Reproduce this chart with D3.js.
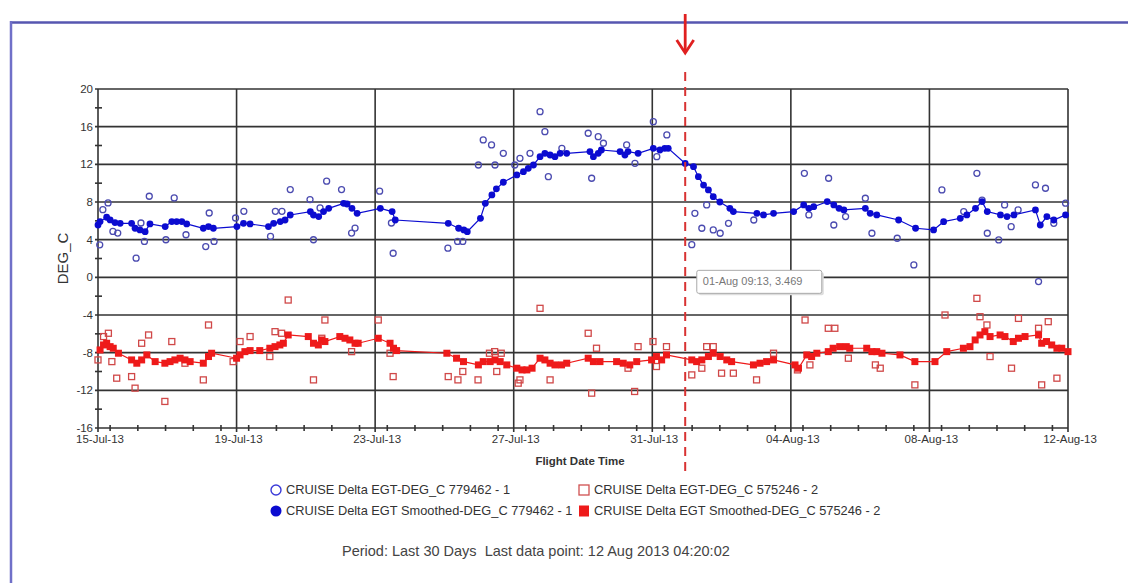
<!DOCTYPE html>
<html><head><meta charset="utf-8">
<script src="https://cdn.jsdelivr.net/npm/d3@7"></script>
<style>
html,body{margin:0;padding:0;background:#fff;}
svg{display:block;font-family:"Liberation Sans",Arial,sans-serif;}
</style></head>
<body><svg id="c" width="1128" height="583"></svg>
<script>
// ---- data: [day offset from 15-Jul-2013, value DEG_C] ----
const blueRaw = [[0.05,3.45],[0.14,7.19],[0.29,7.9],[0.43,4.88],[0.57,4.70],[1.10,2.03],[1.24,5.77],[1.34,3.81],[1.48,8.61],[1.96,3.99],[2.2,8.43],[2.54,4.52],[3.11,3.27],[3.21,6.83],[3.35,3.81],[3.97,6.30],[4.21,7.01],[4.98,4.34],[5.12,7.01],[5.31,7.01],[5.55,9.32],[6.12,8.26],[6.22,3.99],[6.41,7.37],[6.60,10.21],[7.03,9.32],[7.32,4.70],[7.42,5.23],[8.13,9.15],[8.47,5.77],[8.52,2.56],[10.10,3.10],[10.38,3.81],[10.53,3.81],[10.98,11.93],[11.12,14.59],[11.36,14.06],[11.46,11.93],[11.70,13.17],[12.03,11.93],[12.18,12.64],[12.47,13.17],[12.76,17.59],[12.9,15.47],[13.0,10.69],[13.39,13.7],[14.15,15.3],[14.25,10.52],[14.44,14.94],[14.59,14.24],[15.26,14.06],[15.5,12.11],[16.03,16.53],[16.13,12.81],[16.42,15.12],[17.14,3.47],[17.23,6.8],[17.43,5.21],[17.57,7.69],[17.76,5.03],[17.96,4.68],[18.2,5.74],[18.93,6.09],[20.39,11.05],[20.52,6.63],[21.09,10.52],[21.24,5.56],[21.58,6.45],[22.15,8.4],[22.34,4.68],[23.07,4.15],[23.55,1.32],[24.36,9.28],[24.99,6.98],[25.37,11.05],[25.52,8.2],[25.67,4.68],[26.0,3.97],[26.17,7.69],[26.36,5.38],[26.56,7.16],[27.06,9.81],[27.35,9.46],[27.15,-0.45],[27.59,5.74],[27.93,7.87]];
const blueSmooth = [[0.0,5.56],[0.06,5.92],[0.25,6.38],[0.35,6.10],[0.49,5.81],[0.64,5.74],[0.97,5.74],[1.07,5.21],[1.21,5.03],[1.36,4.85],[1.50,5.67],[1.94,5.39],[2.13,5.92],[2.27,5.92],[2.42,5.92],[2.56,5.67],[3.04,5.21],[3.19,5.39],[3.33,5.21],[4.01,5.39],[4.20,5.74],[4.39,5.67],[4.92,5.39],[5.07,5.74],[5.26,5.92],[5.40,6.09],[5.55,6.62],[6.13,6.98],[6.22,6.62],[6.37,6.45],[6.51,6.98],[6.66,7.33],[7.09,7.86],[7.19,7.79],[7.33,7.33],[7.48,6.80],[8.15,7.33],[8.49,6.98],[8.58,6.09],[10.11,5.74],[10.41,5.21],[10.56,5.03],[10.66,4.85],[11.04,6.27],[11.18,7.86],[11.37,8.75],[11.50,9.4],[11.70,10.1],[12.09,10.87],[12.28,11.22],[12.42,11.58],[12.57,11.93],[12.76,12.81],[12.9,13.17],[13.05,12.99],[13.19,12.81],[13.34,13.17],[13.53,13.17],[14.2,13.35],[14.3,12.81],[14.44,13.17],[14.53,13.52],[15.07,13.35],[15.21,12.99],[15.3,13.35],[15.59,13.17],[16.03,13.7],[16.22,13.52],[16.36,13.7],[16.46,13.7],[16.95,12.1],[17.19,11.75],[17.33,10.69],[17.48,9.8],[17.62,9.28],[17.76,8.57],[17.95,8.0],[18.24,7.33],[18.34,6.98],[19.02,6.80],[19.21,6.63],[19.5,6.80],[20.08,6.98],[20.37,7.69],[20.52,7.33],[20.66,7.5],[21.05,8.04],[21.24,7.69],[21.39,7.33],[21.53,7.16],[22.15,7.33],[22.29,6.8],[22.48,6.63],[23.11,6.09],[23.6,5.21],[24.12,5.03],[24.41,5.91],[24.89,6.27],[25.08,6.63],[25.33,7.33],[25.52,8.04],[25.67,6.98],[26.05,6.63],[26.24,6.45],[26.44,6.63],[27.06,7.16],[27.2,5.56],[27.39,6.45],[27.59,6.09],[27.93,6.63]];
const redRaw = [[0.0,-8.77],[0.16,-6.29],[0.30,-5.94],[0.40,-8.95],[0.54,-10.71],[0.97,-10.54],[1.07,-11.77],[1.26,-7.0],[1.46,-6.12],[1.93,-13.18],[2.13,-6.82],[2.51,-9.12],[3.04,-10.89],[3.19,-5.06],[3.9,-8.95],[4.10,-6.82],[4.39,-6.29],[4.96,-8.41],[5.11,-5.77],[5.30,-5.94],[5.49,-2.41],[6.22,-10.89],[6.46,-6.47],[6.55,-4.53],[7.32,-7.89],[8.09,-4.53],[8.43,-8.06],[8.52,-10.54],[10.11,-10.54],[10.39,-10.89],[10.53,-10.0],[10.97,-10.89],[11.3,-8.06],[11.45,-7.89],[11.64,-8.06],[11.51,-10.0],[12.13,-11.24],[12.18,-10.89],[12.76,-3.29],[13.05,-10.89],[14.15,-5.94],[14.39,-7.53],[14.25,-12.3],[15.30,-9.65],[15.49,-12.12],[15.59,-7.36],[16.02,-6.82],[16.12,-9.47],[16.41,-7.36],[17.14,-10.36],[17.43,-9.65],[17.57,-7.36],[17.76,-7.36],[18.0,-10.18],[18.34,-10.18],[19.01,-10.89],[19.5,-8.06],[20.19,-9.83],[20.41,-4.53],[20.55,-9.30],[21.08,-5.41],[21.27,-5.41],[21.66,-8.59],[22.44,-9.30],[22.58,-9.65],[23.58,-11.42],[24.45,-4.0],[25.37,-2.23],[25.46,-4.18],[25.66,-5.06],[25.75,-8.41],[26.37,-9.65],[26.57,-4.36],[27.15,-5.41],[27.43,-4.71],[27.24,-11.42],[27.68,-10.71]];
const redSmooth = [[0.06,-7.71],[0.16,-7.18],[0.25,-7.0],[0.35,-7.36],[0.44,-7.53],[0.59,-8.06],[0.97,-8.77],[1.12,-9.12],[1.26,-8.77],[1.41,-8.24],[1.65,-8.95],[1.93,-9.12],[2.08,-8.95],[2.22,-8.77],[2.37,-8.59],[2.51,-8.77],[2.66,-8.95],[3.04,-9.12],[3.19,-8.41],[3.28,-8.06],[4.0,-8.59],[4.10,-8.24],[4.24,-7.89],[4.39,-7.78],[4.67,-7.78],[4.96,-7.53],[5.11,-7.36],[5.25,-7.18],[5.35,-7.0],[5.49,-6.12],[6.07,-6.29],[6.22,-7.0],[6.36,-7.18],[6.46,-6.65],[6.55,-6.82],[6.98,-6.29],[7.13,-6.47],[7.27,-6.65],[7.42,-7.0],[7.51,-7.0],[8.09,-6.47],[8.43,-7.0],[8.53,-7.53],[8.62,-7.78],[10.07,-8.06],[10.35,-8.59],[10.55,-8.95],[10.98,-9.30],[11.12,-8.95],[11.32,-8.95],[11.46,-8.77],[11.61,-8.95],[11.80,-9.30],[12.09,-9.65],[12.24,-9.83],[12.38,-9.83],[12.53,-9.65],[12.76,-8.59],[12.9,-8.77],[13.05,-9.12],[13.19,-9.30],[13.38,-9.30],[13.53,-9.12],[14.15,-8.59],[14.30,-8.95],[14.49,-8.95],[14.97,-8.95],[15.16,-9.12],[15.35,-9.30],[15.55,-8.95],[15.98,-8.77],[16.12,-8.41],[16.27,-8.77],[16.41,-8.24],[17.14,-8.77],[17.28,-8.95],[17.43,-8.77],[17.62,-8.41],[17.76,-8.06],[17.96,-8.41],[18.15,-8.77],[18.29,-8.95],[18.92,-9.30],[19.11,-9.12],[19.30,-8.95],[19.5,-8.77],[20.12,-9.30],[20.22,-9.65],[20.46,-8.24],[20.6,-8.41],[20.75,-8.06],[21.08,-7.89],[21.22,-7.53],[21.41,-7.36],[21.6,-7.36],[21.7,-7.53],[22.19,-7.53],[22.34,-7.89],[22.48,-7.89],[22.63,-8.06],[23.15,-8.24],[23.58,-8.95],[24.16,-8.95],[24.5,-7.89],[24.98,-7.53],[25.17,-7.36],[25.32,-6.65],[25.46,-6.12],[25.6,-5.77],[25.75,-6.29],[26.04,-6.12],[26.18,-6.29],[26.42,-6.82],[26.57,-6.47],[26.76,-6.29],[27.15,-6.12],[27.24,-7.0],[27.38,-6.82],[27.53,-7.18],[27.68,-7.53],[27.82,-7.53],[28.0,-7.89]];

const yMajorTicks = [20,16,12,8,4,0,-4,-8,-12,-16];
const yMinorTicks = [18,14,10,6,2,-2,-6,-10,-14];
const xMajorTickDays = [0,4,8,12,16,20,24,28];
const xMinorOffsetDays = [0.35,1.15,1.95,2.75,3.55];
const markerDay = 16.95;
const tooltipPoint = [17.14, 3.469];
const tooltipText = "01-Aug 09:13, 3.469";
const legendItems = [
  {label:"CRUISE Delta EGT-DEG_C 779462 - 1", kind:"openCircle"},
  {label:"CRUISE Delta EGT-DEG_C 575246 - 2", kind:"openSquare"},
  {label:"CRUISE Delta EGT Smoothed-DEG_C 779462 - 1", kind:"filledCircle"},
  {label:"CRUISE Delta EGT Smoothed-DEG_C 575246 - 2", kind:"filledSquare"}
];
const yTitle = "DEG_C";
const xTitle = "Flight Date Time";
const footer = "Period: Last 30 Days  Last data point: 12 Aug 2013 04:20:02";

// ---- setup ----
const base = new Date(2013, 6, 15);
const toDate = d => new Date(base.getTime() + d * 864e5);
const svg = d3.select("#c");
const L = 98, R = 1068, T = 89, B = 428;
const x = d3.scaleTime().domain([toDate(0), toDate(28)]).range([L, R]);
const y = d3.scaleLinear().domain([-16, 20]).range([B, T]);
const fmt = d3.timeFormat("%d-%b-%y");

const BLUE = "#0b0bd0", BLUE_O = "#4b4bb0", RED = "#ee1a1a", RED_O = "#d04848", GRID = "#333";

// outer frame
svg.append("line").attr("x1",10).attr("x2",1128).attr("y1",22.5).attr("y2",22.5).attr("stroke","#5656b0").attr("stroke-width",2.5);
svg.append("line").attr("x1",11).attr("x2",11).attr("y1",21).attr("y2",583).attr("stroke","#7070c8").attr("stroke-width",2.5);

// gridlines
const g = svg.append("g");
g.selectAll(".hg").data(yMajorTicks).join("line")
  .attr("x1", L-3).attr("x2", R).attr("y1", d=>y(d)).attr("y2", d=>y(d))
  .attr("stroke", GRID).attr("stroke-width", 1.6);
g.selectAll(".vg").data(xMajorTickDays).join("line")
  .attr("x1", d=>x(toDate(d))).attr("x2", d=>x(toDate(d))).attr("y1", T).attr("y2", B+4)
  .attr("stroke", GRID).attr("stroke-width", 1.6);
// minor ticks
g.selectAll(".ym").data(yMinorTicks).join("line")
  .attr("x1", L-3).attr("x2", L+4).attr("y1", d=>y(d)).attr("y2", d=>y(d))
  .attr("stroke", GRID).attr("stroke-width", 1.6);
const xMinor = [];
xMajorTickDays.slice(0,-1).forEach(m => xMinorOffsetDays.forEach(o => xMinor.push(m+o)));
g.selectAll(".xm").data(xMinor).join("line")
  .attr("x1", d=>x(toDate(d))).attr("x2", d=>x(toDate(d))).attr("y1", B-3).attr("y2", B+3)
  .attr("stroke", GRID).attr("stroke-width", 1.6);

// tick labels
g.selectAll(".yl").data(yMajorTicks).join("text")
  .attr("x", L-5).attr("y", d=>y(d)+4).attr("text-anchor","end")
  .attr("font-size", 11.5).attr("fill","#333").text(d=>d);
g.selectAll(".xl").data(xMajorTickDays).join("text")
  .attr("x", d=>x(toDate(d))+2).attr("y", B+15).attr("text-anchor","middle")
  .attr("font-size", 11.5).attr("fill","#333").text(d=>fmt(toDate(d)));

svg.append("text").attr("transform",`translate(68,${(T+B)/2}) rotate(-90)`)
  .attr("text-anchor","middle").attr("font-size",15).attr("fill","#333").text(yTitle);
svg.append("text").attr("x",(L+R)/2-3).attr("y",465).attr("text-anchor","middle")
  .attr("font-size",11.5).attr("font-weight","bold").attr("fill","#333").text(xTitle);

// series
const line = d3.line().x(d=>x(toDate(d[0]))).y(d=>y(d[1]));
const plot = svg.append("g");
plot.selectAll(".bo").data(blueRaw).join("circle")
  .attr("cx", d=>x(toDate(d[0]))).attr("cy", d=>y(d[1])).attr("r", 3)
  .attr("fill","none").attr("stroke", BLUE_O).attr("stroke-width",1.3);
plot.selectAll(".ro").data(redRaw).join("rect")
  .attr("x", d=>x(toDate(d[0]))-3).attr("y", d=>y(d[1])-3).attr("width",6).attr("height",6)
  .attr("fill","none").attr("stroke", RED_O).attr("stroke-width",1.3);
plot.append("path").datum(blueSmooth.slice().sort((a,b)=>a[0]-b[0])).attr("d", line)
  .attr("fill","none").attr("stroke", BLUE).attr("stroke-width",1.2);
plot.append("path").datum(redSmooth.slice().sort((a,b)=>a[0]-b[0])).attr("d", line)
  .attr("fill","none").attr("stroke", RED).attr("stroke-width",1.2);
plot.selectAll(".bs").data(blueSmooth).join("circle")
  .attr("cx", d=>x(toDate(d[0]))).attr("cy", d=>y(d[1])).attr("r", 3.4).attr("fill", BLUE);
plot.selectAll(".rs").data(redSmooth).join("rect")
  .attr("x", d=>x(toDate(d[0]))-3.5).attr("y", d=>y(d[1])-3.5).attr("width",7).attr("height",7).attr("fill", RED);

// marker line + arrow
const mx = x(toDate(markerDay));
svg.append("line").attr("x1",mx).attr("x2",mx).attr("y1",72).attr("y2",477)
  .attr("stroke","#d83232").attr("stroke-width",2).attr("stroke-dasharray","9,6");
svg.append("line").attr("x1",mx).attr("x2",mx).attr("y1",14).attr("y2",52)
  .attr("stroke","#e02020").attr("stroke-width",2.8);
svg.append("path").attr("d",`M${mx-8.5},${40}L${mx},${53}L${mx+8.5},${40}`)
  .attr("fill","none").attr("stroke","#e02020").attr("stroke-width",2.8);

// tooltip
const tx = x(toDate(tooltipPoint[0])) + 5, ty = y(0) - 7;
svg.append("rect").attr("x",tx+2).attr("y",ty+2).attr("width",125).attr("height",23).attr("rx",2).attr("fill","#ddd");
svg.append("rect").attr("x",tx).attr("y",ty).attr("width",125).attr("height",23).attr("rx",2)
  .attr("fill","#fff").attr("stroke","#aaa").attr("stroke-width",1);
svg.append("text").attr("x",tx+6).attr("y",ty+15).attr("font-size",11).attr("fill","#777").text(tooltipText);

// legend
const legPos = [[276,490],[584,490],[276,511],[584,511]];
legendItems.forEach((it,i) => {
  const [lx,ly] = legPos[i];
  const lg = svg.append("g");
  if (it.kind==="openCircle") lg.append("circle").attr("cx",lx).attr("cy",ly).attr("r",5).attr("fill","none").attr("stroke","#3a3ad8").attr("stroke-width",1.4);
  if (it.kind==="filledCircle") lg.append("circle").attr("cx",lx).attr("cy",ly).attr("r",5.5).attr("fill",BLUE);
  if (it.kind==="openSquare") lg.append("rect").attr("x",lx-5).attr("y",ly-5).attr("width",10).attr("height",10).attr("fill","none").attr("stroke","#d05050").attr("stroke-width",1.3);
  if (it.kind==="filledSquare") lg.append("rect").attr("x",lx-5).attr("y",ly-5.5).attr("width",10).attr("height",11).attr("fill",RED);
  lg.append("text").attr("x",lx+10).attr("y",ly+4).attr("font-size",12.8).attr("fill","#333").text(it.label);
});

svg.append("text").attr("x",342).attr("y",556).attr("font-size",14.5).attr("fill","#444")
  .style("white-space","pre").text(footer);
</script></body></html>
